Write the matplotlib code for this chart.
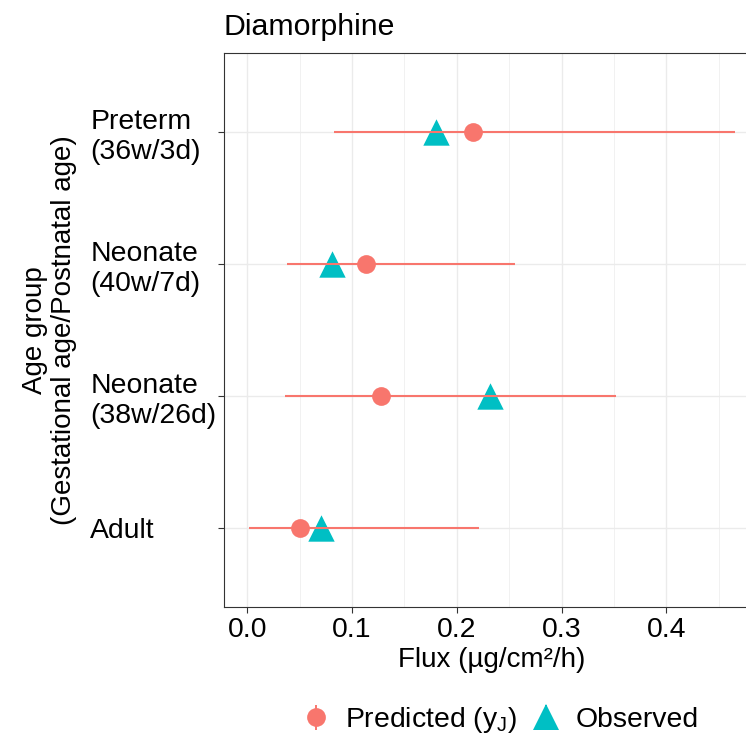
import matplotlib
matplotlib.use("Agg")
import matplotlib.pyplot as plt
import numpy as np
from matplotlib.lines import Line2D
from matplotlib.legend_handler import HandlerTuple

plt.rcParams['font.family'] = ['Liberation Sans', 'DejaVu Sans']
plt.rcParams['mathtext.fontset'] = 'custom'
plt.rcParams['mathtext.rm'] = 'Liberation Sans'

# data, top row first
groups = ["Preterm\n(36w/3d)", "Neonate\n(40w/7d)", "Neonate\n(38w/26d)", "Adult"]
predicted = [0.2155, 0.113, 0.1276, 0.0503]
lower = [0.083, 0.038, 0.036, 0.0013]
upper = [0.466, 0.2556, 0.3517, 0.221]
observed = [0.180, 0.0812, 0.232, 0.0704]
xticks = [0.0, 0.1, 0.2, 0.3, 0.4]

PRED_COL = "#F8766D"
OBS_COL = "#00BFC4"
GRID = "#EBEBEB"
DARK = "#333333"

W, H = 746, 737
fig = plt.figure(figsize=(W / 100, H / 100), dpi=100)
# panel runs a bit past the right edge, like the cropped original
ax = fig.add_axes([224 / W, 1 - 607 / H, (759.5 - 224) / W, (607 - 53) / H])

y = np.arange(len(groups))[::-1]

ax.hlines(y, lower, upper, color=PRED_COL, lw=1.5, zorder=4)
ax.scatter(predicted, y, s=13.5 ** 2, color=PRED_COL, marker='o', lw=0, zorder=3)
ax.scatter(observed, y, s=19 ** 2, color=OBS_COL, marker='^', lw=0, zorder=3.5)

ax.set_xlim(-0.0222, 0.489)
ax.set_ylim(-0.6, len(groups) - 0.4)

ax.set_xticks(xticks)
ax.set_xticklabels([f"{t:.1f}" for t in xticks])
ax.set_xticks(np.arange(0.05, 0.5, 0.1), minor=True)
ax.set_yticks(y)
ax.set_yticklabels(groups, ha='left', linespacing=1.2)

ax.grid(True, which='major', color=GRID, lw=1.0, zorder=0)
ax.grid(True, which='minor', axis='x', color=GRID, lw=0.5, zorder=0)
ax.set_axisbelow(True)

ax.tick_params(axis='both', which='major', length=4.3, width=0.8, color=DARK,
               labelsize=20.4, labelcolor='black')
ax.tick_params(axis='x', which='major', pad=3)
ax.tick_params(axis='y', which='major', pad=92)
ax.tick_params(which='minor', length=0)

for sp in ax.spines.values():
    sp.set_color(DARK)
    sp.set_linewidth(0.8)

ax.set_xlabel("Flux (µg/cm²/h)", fontsize=20, labelpad=3)
fig.text(50 / W, 1 - 330 / H, "Age group\n(Gestational age/Postnatal age)",
         rotation=90, ha='center', va='center', fontsize=20, linespacing=1.15)

ax.set_title("Diamorphine", loc='left', fontsize=21.8, pad=13)

# legend keys: pointrange glyph (vertical bar + point)
bar_p = Line2D([], [], marker='|', markersize=18, markeredgewidth=1.4,
               color=PRED_COL, linestyle='none')
pt_p = Line2D([], [], marker='o', markersize=13.5, color=PRED_COL,
              markeredgewidth=0, linestyle='none')
bar_o = Line2D([], [], marker='|', markersize=18, markeredgewidth=1.4,
               color=OBS_COL, linestyle='none')
pt_o = Line2D([], [], marker='^', markersize=19, color=OBS_COL,
              markeredgewidth=0, linestyle='none')

fig.legend([(bar_p, pt_p), (bar_o, pt_o)],
           ["Predicted (y$_\\mathrm{J}$)", "Observed"],
           handler_map={tuple: HandlerTuple(ndivide=1)},
           loc='center', bbox_to_anchor=(500 / W, 1 - 720 / H), ncol=2,
           frameon=False, fontsize=20.4, handlelength=1.0, handletextpad=0.52,
           columnspacing=0.55, borderaxespad=0)

fig.savefig("out.png", dpi=100)
